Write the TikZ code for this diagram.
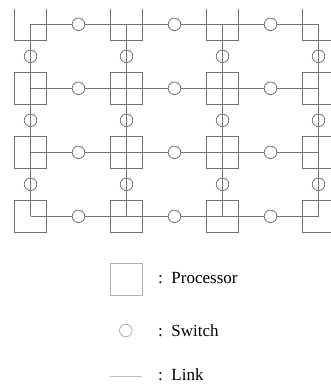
\documentclass[tikz,border=0pt]{standalone}
\usepackage{fontspec}
\setmainfont{Liberation Serif}
\begin{document}
\begin{tikzpicture}[x=1pt,y=-1pt,
  linkline/.style={draw=black!55,line width=0.8pt},
  procbox/.style={draw=black!55,line width=0.8pt,minimum width=32pt,minimum height=32pt,inner sep=0pt,outer sep=0pt},
  hswitch/.style={circle,draw=black!55,fill=white,line width=0.8pt,minimum size=12.6pt,inner sep=0pt,outer sep=0pt},
  vswitch/.style={circle,draw=black!55,line width=0.8pt,minimum size=12.6pt,inner sep=0pt,outer sep=0pt},
  legbox/.style={draw=black!30,line width=0.8pt,minimum width=32pt,minimum height=32pt,inner sep=0pt},
  legswitch/.style={circle,draw=black!30,line width=0.8pt,minimum size=12.6pt,inner sep=0pt},
  legtext/.style={anchor=base west,inner sep=0pt,font=\fontsize{17}{20}\selectfont}]
\useasboundingbox (0,0) rectangle (331,385);
\begin{scope}
\clip (0,9.6) rectangle (331,385);
% processors
\foreach \i/\y in {0/24.3,1/88.3,2/152.3,3/216.3}{
  \foreach \j/\x in {0/30.5,1/126.5,2/222.5,3/318.5}{
    \node[procbox] (p-\i-\j) at (\x,\y) {};
  }
}
% vertical links
\foreach \j in {0,1,2,3}{
  \draw[linkline] (p-0-\j.center) -- (p-3-\j.center);
}
% vertical switches
\foreach \i/\y in {0/56.3,1/120.3,2/184.3}{
  \foreach \j/\x in {0/30.5,1/126.5,2/222.5,3/318.5}{
    \node[vswitch] (v-\i-\j) at (\x,\y) {};
  }
}
% horizontal links and switches
\foreach \i/\y in {0/24.3,1/88.3,2/152.3,3/216.3}{
  \draw[linkline] (p-\i-0.center) -- (p-\i-3.center);
  \foreach \j/\x in {0/78.5,1/174.5,2/270.5}{
    \node[hswitch] (h-\i-\j) at (\x,\y) {};
  }
}
\end{scope}
% legend
\node[legbox] (lp) at (126.3,279.5) {};
\node[legtext] (tp) at (158,283.3) {:\ \ Processor};
\node[legswitch] (ls) at (125.8,330.5) {};
\node[legtext] (ts) at (158,336.7) {:\ \ Switch};
\coordinate (la) at (110,376);
\coordinate (lb) at (142.3,376);
\draw[draw=black!25,line width=0.9pt] (la) -- (lb);
\node[legtext] (tl) at (158,380) {:\ \ Link};
\end{tikzpicture}
\end{document}
